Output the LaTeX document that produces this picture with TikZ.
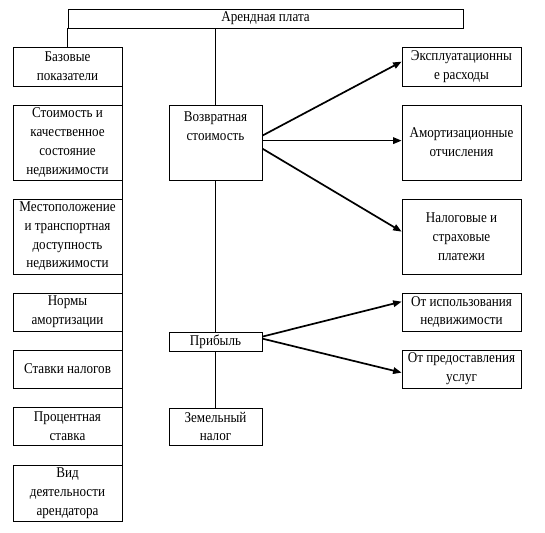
\documentclass[tikz,border=0pt]{standalone}
\usepackage{fontspec}
\setmainfont{Liberation Serif}
\newfontfamily\tnr[FakeStretch=0.88]{Liberation Serif}
\usetikzlibrary{arrows.meta}
\begin{document}
\begin{tikzpicture}[x=1pt,y=-1pt,
  box/.style={draw, line width=0.75pt, inner sep=0pt, align=center,
    font=\tnr\fontsize{14.9}{18.7}\selectfont},
  lcol/.style={box, minimum width=109pt},
  ccol/.style={box, minimum width=93pt},
  rcol/.style={box, minimum width=119pt},
  link/.style={line width=0.6pt},
  arr/.style={line width=1.7pt, -{Triangle[length=8.5pt,width=6.5pt]}}]
\useasboundingbox (0,0) rectangle (545,532);
\fill[white] (0,0) rectangle (545,532);

% top
\node (top) [box, minimum width=395pt, minimum height=19pt] at (265.5,18.5) {Арендная плата};

% left column
\node (b1) [lcol, minimum height=39pt] at (67.5,66.5) {Базовые\\показатели};
\node (b2) [lcol, minimum height=75pt] at (67.5,142.5) {Стоимость и\\качественное\\состояние\\недвижимости};
\node (b3) [lcol, minimum height=75pt] at (67.5,236.5) {Местоположение\\и транспортная\\доступность\\недвижимости};
\node (b4) [lcol, minimum height=38pt] at (67.5,312) {Нормы\\амортизации};
\node (b5) [lcol, minimum height=38pt] at (67.5,369) {Ставки налогов};
\node (b6) [lcol, minimum height=38pt] at (67.5,426) {Процентная\\ставка};
\node (b7) [lcol, minimum height=56pt] at (67.5,493) {Вид\\деятельности\\арендатора};

% center column
\node (voz) [ccol, minimum height=75pt] at (215.5,142.5)
  {\parbox[c][75pt][t]{93pt}{\centering\vspace{7pt}Возвратная\\стоимость}};
\node (prib) [ccol, minimum height=19pt] at (215.5,341.5) {Прибыль};
\node (zem) [ccol, minimum height=37pt] at (215.5,426.5) {Земельный\\налог};

% right column
\node (r1) [rcol, minimum height=39pt] at (461.5,66.5) {Эксплуатационны\\е расходы};
\node (r2) [rcol, minimum height=75pt] at (461.5,142.5) {Амортизационные\\отчисления};
\node (r3) [rcol, minimum height=75pt] at (461.5,236.5) {Налоговые и\\страховые\\платежи};
\node (r4) [rcol, minimum height=38pt] at (461.5,312) {От использования\\недвижимости};
\node (r5) [rcol, minimum height=38pt] at (461.5,369) {От предоставления\\услуг};

% connectors
\draw[link] (top.south west) -- (top.south west |- b1.north);
\draw[link] (b1.south east) -- (b7.north east);
\draw[link] (top.south -| voz.north) -- (voz.north);
\draw[link] (voz.south) -- (prib.north);
\draw[link] (prib.south) -- (zem.north);

% arrows
\coordinate (v1) at ([yshift=-31pt]voz.north east);
\coordinate (v2) at ([yshift=-36pt]voz.north east);
\coordinate (v3) at ([yshift=-44pt]voz.north east);
\draw[arr] (v1) -- ([yshift=-15pt]r1.north west);
\draw[arr] (v2) -- (v2 -| r2.west);
\draw[arr] (v3) -- ([yshift=-33pt]r3.north west);
\coordinate (p1) at ([yshift=-5pt]prib.north east);
\coordinate (p2) at ([yshift=-7pt]prib.north east);
\draw[arr] (p1) -- ([yshift=-9pt]r4.north west);
\draw[arr] (p2) -- ([yshift=-23pt]r5.north west);
\end{tikzpicture}
\end{document}
